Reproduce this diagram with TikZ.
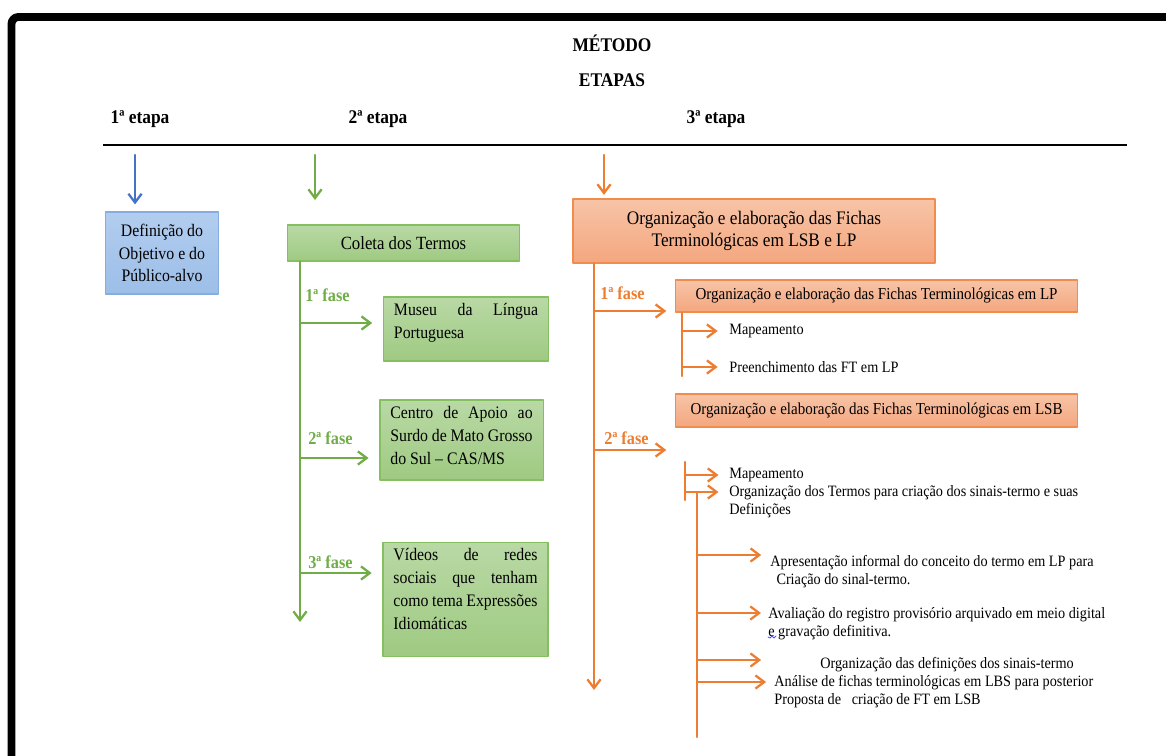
\documentclass[tikz,border=0pt]{standalone}
\usepackage{fontspec}
\setmainfont{Liberation Serif}[FakeStretch=0.9]
\usetikzlibrary{arrows.meta}
\definecolor{azul}{HTML}{4472C4}
\definecolor{azultopo}{HTML}{B2CDEF}
\definecolor{azulbase}{HTML}{9CBEE8}
\definecolor{azulborda}{HTML}{86ACE0}
\definecolor{verde}{HTML}{70AD47}
\definecolor{verdetopo}{HTML}{B9D9A5}
\definecolor{verdebase}{HTML}{9FCA82}
\definecolor{verdeborda}{HTML}{86BF60}
\definecolor{laranja}{HTML}{ED7D31}
\definecolor{laranjatopo}{HTML}{F7C4A7}
\definecolor{laranjabase}{HTML}{F4A77F}
\definecolor{laranjaborda}{HTML}{F08C4E}

\begin{document}
\begin{tikzpicture}[line cap=round,line join=round,>={Straight Barb[length=5pt,width=7.5pt]},x=0.02cm,y=-0.02cm,
    seta/.style={->,line width=1.3pt},
    caixa/.style={draw,line width=0.8pt,inner sep=0pt,font=\fontsize{10}{13}\selectfont},
    caixaverde/.style={caixa,draw=verdeborda,top color=verdetopo,bottom color=verdebase},
    caixalaranja/.style={caixa,draw=laranjaborda,top color=laranjatopo,bottom color=laranjabase},
    fase/.style={anchor=west,inner sep=0pt,font=\bfseries\fontsize{10.3}{11}\selectfont},
    miudo/.style={anchor=west,inner sep=0pt,align=left,font=\fontsize{9}{10.2}\selectfont},
    titulo/.style={inner sep=0pt,font=\bfseries\fontsize{11}{12}\selectfont}]
\useasboundingbox (0,0) rectangle (1166,756);
% moldura
\draw [line width=4.5pt,rounded corners=4pt] (11.5,820)-- (11.5,17)-- (1230,17);
% titulos
\node[titulo] (metodo) at (612,43) {MÉTODO};
\node[titulo] (etapas) at (612,80) {ETAPAS};
\node[titulo] (etapa1) at (140,119) {1ª etapa};
\node[titulo] (etapa2) at (378,119) {2ª etapa};
\node[titulo] (etapa3) at (716,119) {3ª etapa};
\draw [line width=1.4pt,line cap=butt] (103,145)-- (1127,145);
% 1a etapa
\node[caixa,draw=azulborda,top color=azultopo,bottom color=azulbase,align=center,minimum width=64.6pt,minimum height=46.5pt] (objetivo) at (162,253) {Definição do\\Objetivo e do\\Público-alvo};
\coordinate (azul0) at (135,155);
\draw [seta,azul,shorten >=4pt] (azul0)-- (azul0 |- objetivo.north);
% 2a etapa
\node[caixaverde,font=\fontsize{10.6}{13}\selectfont,minimum width=132pt,minimum height=20.4pt] (coleta) at (403.5,243) {Coleta dos Termos};
\node[caixaverde,inner xsep=6pt,inner ysep=3.5pt,align=justify,text width=82pt] (museu) at (466,329)
  {\vbox to 29.3pt{Museu da Língua\linebreak Portuguesa\vfil}};
\node[caixaverde,inner xsep=6pt,inner ysep=3.5pt,align=justify,text width=81pt] (centro) at (461.5,440)
  {\vbox to 38.4pt{Centro de Apoio ao\linebreak Surdo de Mato Grosso\linebreak do Sul – CAS/MS\vfil}};
\node[caixaverde,inner xsep=6pt,inner ysep=3.5pt,align=justify,text width=82pt] (videos) at (465.5,599.5)
  {\vbox to 58.2pt{Vídeos de redes\linebreak sociais que tenham\linebreak como tema Expressões\linebreak Idiomáticas\vfil}};
\coordinate (verde0) at (315,155);
\coordinate (verde1) at (315,200);
\draw [seta,verde] (verde0)-- (verde1);
\coordinate (gfim) at (300,622);
\draw [seta,verde] (coleta.south -| gfim)-- (gfim);
\coordinate (g1) at (300,323);
\coordinate (g2) at (300,458);
\coordinate (g3) at (300,573);
\draw [seta,verde,shorten >=6pt] (g1)-- (g1 -| museu.west);
\draw [seta,verde,shorten >=6pt] (g2)-- (g2 -| centro.west);
\draw [seta,verde,shorten >=6pt] (g3)-- (g3 -| videos.west);
\node[fase,verde] (gfase1) at (305,295) {1ª fase};
\node[fase,verde] (gfase2) at (308,438) {2ª fase};
\node[fase,verde] (gfase3) at (308,562) {3ª fase};
% 3a etapa
\node[caixalaranja,align=center,font=\fontsize{10.9}{13}\selectfont,minimum width=206pt,minimum height=36.3pt] (fichas) at (754,231)
  {Organização e elaboração das Fichas\\Terminológicas em LSB e LP};
\node[caixalaranja,font=\fontsize{9.5}{10}\selectfont,minimum width=228.5pt,minimum height=18.1pt] (fichaslp) at (876.5,296)
  {Organização e elaboração das Fichas Terminológicas em LP};
\node[caixalaranja,font=\fontsize{9.5}{10}\selectfont,minimum width=228.5pt,minimum height=18.7pt] (fichaslsb) at (876.5,410.5)
  {Organização e elaboração das Fichas Terminológicas em LSB};
\coordinate (laranja0) at (604,155);
\draw [seta,laranja,shorten >=2pt] (laranja0)-- (laranja0 |- fichas.north);
\coordinate (ofim) at (594,690);
\draw [seta,laranja] (fichas.south -| ofim)-- (ofim);
\coordinate (o1) at (594,311);
\coordinate (o2) at (594,450);
\draw [seta,laranja,shorten >=5pt] (o1)-- (o1 -| fichaslp.west);
\draw [seta,laranja,shorten >=5pt] (o2)-- (o2 -| fichaslsb.west);
\node[fase,laranja] (ofase1) at (600,293) {1ª fase};
\node[fase,laranja] (ofase2) at (604,438) {2ª fase};
% fase 1: LP
\node[miudo] (mapa1) at (729,331) {Mapeamento};
\node[miudo] (preenche) at (729,367) {Preenchimento das FT em LP};
\coordinate (lp0) at (682,376);
\draw [laranja,line width=1.3pt] (fichaslp.south -| lp0)-- (lp0);
\draw [seta,laranja,shorten >=6.5pt] (mapa1 -| lp0)-- (mapa1.west);
\draw [seta,laranja,shorten >=6.5pt] (preenche -| lp0)-- (preenche.west);
% fase 2: LSB
\node[miudo] (mapa2) at (729,475) {Mapeamento};
\node[miudo,anchor=north west] (orgtermos) at (729,485) {Organização dos Termos para criação dos sinais-termo e suas\\Definições};
\coordinate (lsb0) at (685,462);
\coordinate (lsb1) at (685,500);
\coordinate (lsb2) at (685,492);
\draw [laranja,line width=1.3pt] (lsb0)-- (lsb1);
\draw [seta,laranja,shorten >=6pt] (mapa2 -| lsb0)-- (mapa2.west);
\draw [seta,laranja,shorten >=6pt] (lsb2)-- (lsb2 -| orgtermos.west);
% sinais-termo
\node[miudo,anchor=north west] (apresenta) at (770,555) {Apresentação informal do conceito do termo em LP para\\\hspace*{3.5pt}Criação do sinal-termo.};
\node[miudo,anchor=north west] (avalia) at (768,607) {Avaliação do registro provisório arquivado em meio digital\\e gravação definitiva.};
\node[miudo] (orgdef) at (820,665) {Organização das definições dos sinais-termo};
\node[miudo,anchor=north west] (analise) at (774,675) {Análise de fichas terminológicas em LBS para posterior\\Proposta de\ \ \ criação de FT em LSB};
\coordinate (s0) at (697,492);
\coordinate (s9) at (697,737);
\coordinate (s1) at (697,555);
\coordinate (s2) at (697,613);
\coordinate (s3) at (697,660);
\coordinate (s4) at (697,682);
\draw [laranja,line width=1.3pt] (s0)-- (s9);
\draw [seta,laranja,shorten >=5pt] (s1)-- (s1 -| apresenta.west);
\draw [seta,laranja,shorten >=4pt] (s2)-- (s2 -| avalia.west);
\draw [seta,laranja,shorten >=33.5pt] (s3)-- (s3 -| orgdef.west);
\draw [seta,laranja,shorten >=4.5pt] (s4)-- (s4 -| analise.west);
\draw [blue!70,line width=0.5pt] (768,637)-- (770,638)-- (772,636)-- (774,638)-- (776,636);
\end{tikzpicture}
\end{document}
